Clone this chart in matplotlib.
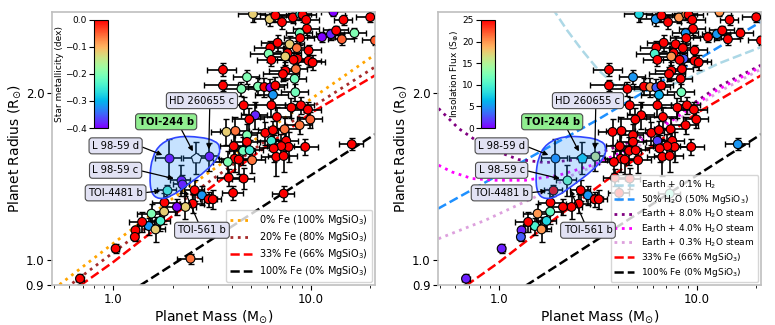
import numpy as np
import matplotlib.pyplot as plt
from matplotlib.path import Path
from matplotlib.patches import PathPatch

# small planets: mass (M_earth), radius (R_earth), 1-sigma errors,
# host star metallicity [Fe/H] (dex) and insolation (S_earth, nan = not shown)
mass = [5.09, 6.18, 6.61, 7.14, 8.11, 8.83, 9.07, 9.47, 9.55, 8.77, 8.83, 11.37, 12.62,
        13.42, 14.34, 14.62, 16.6, 19.95, 21.1, 13.0, 6.23, 6.11, 6.31, 6.79, 7.62, 7.80,
        8.49, 9.73, 7.42, 8.57, 8.17, 9.73, 10.2, 7.42, 7.22, 8.40, 8.27, 4.75, 5.40, 4.45,
        5.81, 6.23, 6.43, 8.34, 3.59, 3.59, 6.61,
        4.57, 6.31, 7.96, 8.90, 9.66, 5.23, 4.88, 6.73, 3.74, 4.15, 4.75, 4.75, 5.88, 6.43,
        7.36, 8.77, 9.93, 4.07, 4.54, 4.90, 6.31, 7.50, 7.71, 7.08, 9.36, 6.48, 6.68, 7.28,
        4.12, 3.80, 4.31, 5.04, 16.1, 3.84, 4.57, 7.28,
        4.04, 2.81, 2.58, 3.04, 3.19, 2.525, 2.32, 2.10, 1.816, 1.81, 1.734, 1.562, 1.514,
        1.40, 1.636, 1.296, 1.286, 1.028, 0.679, 2.46]
radius = [2.776, 2.718, 2.760, 2.684, 2.737, 2.776, 2.768, 2.710, 2.611, 2.565, 2.512, 2.522,
          2.554, 2.593, 2.500, 2.710, 2.565, 2.740, 2.488, 2.800, 2.415, 2.354, 2.295, 2.464,
          2.360, 2.449, 2.410, 2.386, 2.327, 2.305, 2.295, 2.286, 2.270, 2.193, 2.163, 2.208,
          2.121, 2.136, 2.054, 2.034, 2.050, 2.046, 1.984, 2.006, 2.202, 2.063, 2.063,
          1.900, 1.900, 1.882, 1.900, 1.866, 1.823, 1.791, 1.810, 1.701, 1.708, 1.678, 1.632,
          1.694, 1.713, 1.720, 1.749, 1.791, 1.603, 1.572, 1.576, 1.639, 1.639, 1.598, 1.603,
          1.598, 1.588, 1.533, 1.539, 1.522, 1.501, 1.516, 1.512, 1.616, 1.406, 1.401, 1.316,
          1.320, 1.307, 1.335, 1.285, 1.285, 1.262, 1.245, 1.245, 1.268, 1.221, 1.175, 1.211,
          1.150, 1.170, 1.134, 1.130, 1.099, 1.047, 0.924, 1.004]
mass_err = [0.8, 1.0, 1.1, 1.2, 1.3, 1.2, 1.6, 1.5, 1.4, 1.3, 1.5, 1.8, 2.0, 1.9, 2.2, 1.5,
            2.5, 3.0, 3.0, 1.8, 1.1, 1.2, 1.0, 1.2, 1.3, 1.4, 1.3, 1.5, 1.2, 1.2, 1.4, 1.5,
            1.6, 1.3, 1.5, 1.1, 1.2, 0.7, 0.9, 0.8, 1.0, 1.1, 1.2, 1.3, 0.6, 0.7, 1.0,
            0.7, 1.1, 1.4, 1.5, 1.6, 0.8, 0.9, 1.2, 0.6, 0.7, 0.6, 0.8, 0.9, 1.0, 1.3, 1.4,
            1.4, 0.6, 0.7, 0.8, 1.0, 1.1, 1.2, 1.1, 1.5, 1.0, 1.1, 1.2, 0.7, 0.6, 0.8, 0.8,
            2.2, 0.5, 0.6, 0.9,
            0.5, 0.3, 0.3, 0.3, 0.3, 0.35, 0.3, 0.25, 0.25, 0.25, 0.2, 0.25, 0.2, 0.2, 0.2,
            0.05, 0.05, 0.04, 0.03, 0.35]
radius_err = [0.09, 0.08, 0.07, 0.08, 0.06, 0.07, 0.08, 0.06, 0.07, 0.06, 0.07, 0.05, 0.06,
              0.05, 0.06, 0.06, 0.05, 0.05, 0.05, 0.05, 0.07, 0.08, 0.06, 0.08, 0.07, 0.08,
              0.07, 0.06, 0.08, 0.06, 0.07, 0.06, 0.07, 0.08, 0.06, 0.07, 0.09, 0.06, 0.07,
              0.06, 0.08, 0.07, 0.09, 0.07, 0.06, 0.05, 0.07,
              0.07, 0.09, 0.08, 0.07, 0.06, 0.10, 0.09, 0.08, 0.09, 0.10, 0.08, 0.07, 0.08,
              0.07, 0.08, 0.06, 0.06, 0.08, 0.09, 0.07, 0.06, 0.07, 0.10, 0.08, 0.05, 0.09,
              0.12, 0.10, 0.08, 0.07, 0.09, 0.08, 0.04, 0.05, 0.06, 0.04,
              0.04, 0.05, 0.06, 0.04, 0.05, 0.05, 0.06, 0.04, 0.05, 0.06, 0.05, 0.05, 0.04,
              0.05, 0.06, 0.02, 0.02, 0.02, 0.02, 0.02]
feh = [-0.12, -0.12, 0.05, 0.10, 0.08, -0.25, 0.12, 0.02, 0.15, -0.21, 0.04, -0.40, -0.38,
       0.06, -0.05, 0.11, -0.20, 0.09, -0.05, -0.40, 0.03, -0.20, 0.07, 0.10, 0.02, -0.12,
       -0.06, 0.14, -0.12, 0.05, 0.08, 0.01, 0.09, 0.06, 0.13, -0.06, -0.21, -0.20, -0.20,
       -0.20, 0.04, -0.40, -0.32, -0.21, 0.10, 0.08, 0.05,
       0.06, 0.05, 0.11, 0.02, 0.09, -0.38, 0.04, 0.06, -0.12, -0.06, -0.20, 0.07, 0.03,
       0.10, -0.06, -0.06, -0.05, 0.05, -0.21, -0.25, -0.25, 0.02, 0.08, 0.05, 0.06, 0.12,
       0.04, 0.03, 0.09, -0.20, 0.05, -0.06, 0.10, 0.05, 0.07, 0.03,
       0.06, -0.32, 0.05, 0.08, 0.03, 0.04, -0.12, -0.40, 0.07, -0.12, -0.24, -0.20, -0.32,
       0.05, -0.12, 0.02, 0.06, 0.03, 0.05, -0.06]
insol = [8, 5, 30, 30, 20, 20, 30, 30, 30, 5, 30, 30, 5, 30, 30, 30, 30, 30, 30, 20, 30, 10,
         30, 30, 30, 30, 30, 30, 20, 3, 30, 30, 30, 30, 30, 30, 30, 5, 30, 30, 20, 3, 6, 12,
         30, 30, 30,
         30, 30, 30, 30, 30, 30, 30, 30, 30, 30, 30, 30, 30, 30, 30, 30, 30, 30, 30, 30, 2,
         30, 30, 30, 30, 30, 30, 30, 30, 30, 30, 30, 5, 30, 30, 11,
         30, 5, 30, 30, 30, 30, 30, 30, 30, 11, 8, 20, 10, 30, 20, 1, 3, 1, 1, np.nan]

# labelled planets
names = ["L 98-59 d", "TOI-244 b", "HD 260655 c", "L 98-59 c", "TOI-561 b", "TOI-4481 b"]
sp_mass = [1.91, 2.625, 3.04, 2.19, 2.215, 1.874]
sp_radius = [1.529, 1.529, 1.537, 1.391, 1.372, 1.335]
sp_mass_err = [0.29, 0.36, 0.35, 0.25, 0.2, 0.2]
sp_radius_err = [0.12, 0.10, 0.09, 0.09, 0.05, 0.03]
sp_feh = [-0.40, np.nan, -0.40, -0.40, -0.40, -0.24]
sp_insol = [4.7, 7.3, 16.0, 12.0, np.nan, 30.0]
label_mass = [1.028, 1.852, 2.81, 1.028, 2.81, 1.028]
label_radius = [1.605, 1.774, 1.937, 1.450, 1.130, 1.320]

# TOI-244 b posterior outline
blob_mass = [1.574, 1.734, 2.10, 2.76, 3.29, 3.48, 3.42, 2.98, 2.36, 1.95, 1.70, 1.556, 1.526]
blob_radius = [1.533, 1.621, 1.671, 1.666, 1.639, 1.598, 1.533, 1.450, 1.362, 1.298, 1.285,
               1.316, 1.411]

# composition curves
m_fe0 = [0.5, 1.0, 2.0, 5.0, 10.0, 22.0]
r_fe0 = [0.885, 1.07, 1.29, 1.63, 1.95, 2.37]
m_fe20 = [0.58, 1.0, 2.0, 5.0, 10.0, 22.0]
r_fe20 = [0.89, 1.03, 1.24, 1.57, 1.88, 2.25]
m_fe33 = [0.6, 1.0, 2.0, 5.0, 10.0, 22.0]
r_fe33 = [0.87, 0.99, 1.20, 1.53, 1.84, 2.17]
m_fe100 = [1.2, 2.0, 5.0, 10.0, 22.0]
r_fe100 = [0.872, 0.98, 1.21, 1.42, 1.70]
m_h2 = [1.85, 2.20, 2.62, 3.18, 3.86, 4.88, 6.40, 8.73, 12.87, 21.1]
r_h2 = [2.85, 2.597, 2.39, 2.198, 2.065, 2.017, 2.028, 2.115, 2.26, 2.42]
m_w50 = [0.49, 3.12, 21.1]
r_w50 = [1.236, 1.786, 2.689]
m_st8 = [0.493, 0.623, 0.850, 1.253, 1.709, 2.332, 3.307, 4.875, 7.19, 12.62, 21.1]
r_st8 = [1.875, 1.725, 1.598, 1.516, 1.497, 1.512, 1.565, 1.643, 1.786, 2.046, 2.245]
m_st4 = [0.493, 0.576, 0.727, 0.954, 1.354, 1.996, 2.943, 4.34, 7.19, 12.62, 21.1]
r_st4 = [1.481, 1.44, 1.401, 1.391, 1.391, 1.42, 1.481, 1.572, 1.766, 2.023, 2.229]
m_st03 = [0.493, 0.850, 1.521, 2.332, 3.307, 4.875, 7.19, 12.62, 21.1]
r_st03 = [1.091, 1.178, 1.298, 1.42, 1.495, 1.588, 1.741, 2.001, 2.208]

fig = plt.figure(figsize=(7.75, 3.25), dpi=100)
ax1 = fig.add_axes([0.0671, 0.1231, 0.4168, 0.84])
ax2 = fig.add_axes([0.5652, 0.1231, 0.4168, 0.84])


def draw_planets(ax, vals, sp_vals, vmin, vmax, white_244):
    vals = np.array(vals, dtype=float)
    ok = ~np.isnan(vals)
    m, r = np.array(mass)[ok], np.array(radius)[ok]
    ax.errorbar(m, r, xerr=np.array(mass_err)[ok], yerr=np.array(radius_err)[ok],
                fmt="none", ecolor="k", elinewidth=1.2, capsize=2, capthick=1.0, zorder=2)
    sc = ax.scatter(m, r, c=vals[ok], cmap="rainbow", vmin=vmin, vmax=vmax, s=40,
                    edgecolors="k", linewidths=0.8, zorder=3)
    for i in range(len(names)):
        v = sp_vals[i]
        if np.isnan(v) and not (white_244 and names[i] == "TOI-244 b"):
            continue
        ax.errorbar(sp_mass[i], sp_radius[i], xerr=sp_mass_err[i], yerr=sp_radius_err[i],
                    fmt="none", ecolor="k", elinewidth=1.2, capsize=2, capthick=1.0, zorder=2)
        mk = "p" if names[i] == "TOI-244 b" else "o"
        sz = 60 if mk == "p" else 40
        if np.isnan(v):
            ax.scatter(sp_mass[i], sp_radius[i], c="white", marker=mk, s=sz,
                       edgecolors="k", linewidths=0.8, zorder=3)
        else:
            ax.scatter(sp_mass[i], sp_radius[i], c=[v], cmap="rainbow", vmin=vmin, vmax=vmax,
                       marker=mk, s=sz, edgecolors="k", linewidths=0.8, zorder=3)

    # posterior outline, smoothed with quadratic beziers in log space
    lx, ly = np.log10(blob_mass), np.log10(blob_radius)
    n = len(lx)
    verts, codes = [], []
    mid = lambda k: ((lx[k % n] + lx[(k + 1) % n]) / 2, (ly[k % n] + ly[(k + 1) % n]) / 2)
    verts.append(mid(0)); codes.append(Path.MOVETO)
    for k in range(1, n + 1):
        verts.append((lx[k % n], ly[k % n])); codes.append(Path.CURVE3)
        verts.append(mid(k)); codes.append(Path.CURVE3)
    verts = [(10 ** a, 10 ** b) for a, b in verts]
    ax.add_patch(PathPatch(Path(verts, codes), facecolor=(0.12, 0.56, 1.0, 0.25),
                           edgecolor="#2f45ff", lw=1.2, zorder=4))

    for i, nm in enumerate(names):
        green = nm == "TOI-244 b"
        relpos = {"HD 260655 c": (0.62, 0), "TOI-244 b": (0.75, 0),
                  "TOI-561 b": (0.45, 1)}.get(nm, (1, 0.5))
        ax.annotate(nm, xy=(sp_mass[i], sp_radius[i]), xytext=(label_mass[i], label_radius[i]),
                    ha="center", va="center", fontsize=7.2,
                    fontweight="bold" if green else "normal",
                    bbox=dict(boxstyle="round,pad=0.3", fc="#90ee90" if green else "#e2e2f4",
                              ec="0.3", lw=0.8),
                    arrowprops=dict(arrowstyle="-|>", color="k", lw=0.9, mutation_scale=7,
                                    relpos=relpos, shrinkA=0, shrinkB=5),
                    zorder=6)
    return sc


def style_axes(ax):
    ax.set_xscale("log")
    ax.set_yscale("log")
    ax.set_xlim(0.49, 21.1)
    ax.set_ylim(0.9, 2.8)
    ax.set_xticks([1, 10])
    ax.set_xticklabels(["1.0", "10.0"])
    ax.set_yticks([0.9, 1.0, 2.0])
    ax.set_yticklabels(["0.9", "1.0", "2.0"])
    ax.yaxis.set_minor_locator(plt.NullLocator())
    ax.tick_params(labelsize=8.5, pad=2)
    ax.set_xlabel("Planet Mass (M$_{\\odot}$)", fontsize=10, labelpad=2)
    ax.set_ylabel("Planet Radius (R$_{\\odot}$)", fontsize=10, labelpad=2)
    for s in ax.spines.values():
        s.set_color("0.75")
        s.set_linewidth(1.2)


# left: metallicity
ax1.plot(m_fe0, r_fe0, ":", color="orange", lw=2, label="0% Fe (100% MgSiO$_3$)", zorder=1)
ax1.plot(m_fe20, r_fe20, ":", color="brown", lw=2, label="20% Fe (80% MgSiO$_3$)", zorder=1)
ax1.plot(m_fe33, r_fe33, "--", color="red", lw=1.8, label="33% Fe (66% MgSiO$_3$)", zorder=1)
ax1.plot(m_fe100, r_fe100, "--", color="k", lw=1.8, label="100% Fe (0% MgSiO$_3$)", zorder=1)
sc1 = draw_planets(ax1, feh, sp_feh, -0.4, 0.0, True)
style_axes(ax1)
ax1.legend(loc="lower right", fontsize=7, framealpha=0.8, borderaxespad=0.3,
           labelspacing=0.3, handlelength=2.2)
cax1 = ax1.inset_axes([0.13, 0.575, 0.043, 0.396])
cb1 = fig.colorbar(sc1, cax=cax1, ticks=[0.0, -0.1, -0.2, -0.3, -0.4])
cax1.yaxis.set_ticks_position("left")
cax1.yaxis.set_label_position("left")
cb1.set_label("Star metallicity (dex)", fontsize=6.5, labelpad=1)
cax1.tick_params(labelsize=6.5, pad=1.5)

# right: insolation
ax2.plot(m_h2, r_h2, "--", color="lightblue", lw=1.8, label="Earth + 0.1% H$_2$", zorder=1)
ax2.plot(m_w50, r_w50, "--", color="dodgerblue", lw=1.8, label="50% H$_2$O (50% MgSiO$_3$)", zorder=1)
ax2.plot(m_st8, r_st8, ":", color="purple", lw=2, label="Earth + 8.0% H$_2$O steam", zorder=1)
ax2.plot(m_st4, r_st4, ":", color="magenta", lw=2, label="Earth + 4.0% H$_2$O steam", zorder=1)
ax2.plot(m_st03, r_st03, ":", color="plum", lw=2, label="Earth + 0.3% H$_2$O steam", zorder=1)
ax2.plot(m_fe33, r_fe33, "--", color="red", lw=1.8, label="33% Fe (66% MgSiO$_3$)", zorder=1)
ax2.plot(m_fe100, r_fe100, "--", color="k", lw=1.8, label="100% Fe (0% MgSiO$_3$)", zorder=1)
sc2 = draw_planets(ax2, insol, sp_insol, 0, 25, False)
style_axes(ax2)
ax2.legend(loc="lower right", fontsize=6.5, framealpha=0.8, borderaxespad=0.3,
           labelspacing=0.2, handlelength=2.2)
cax2 = ax2.inset_axes([0.132, 0.575, 0.043, 0.396])
cb2 = fig.colorbar(sc2, cax=cax2, ticks=[0, 5, 10, 15, 20, 25])
cax2.yaxis.set_ticks_position("left")
cax2.yaxis.set_label_position("left")
cb2.set_label("Insolation Flux (S$_{\\oplus}$)", fontsize=6.5, labelpad=1)
cax2.tick_params(labelsize=6.5, pad=1.5)

fig.savefig("out.png", dpi=100)
